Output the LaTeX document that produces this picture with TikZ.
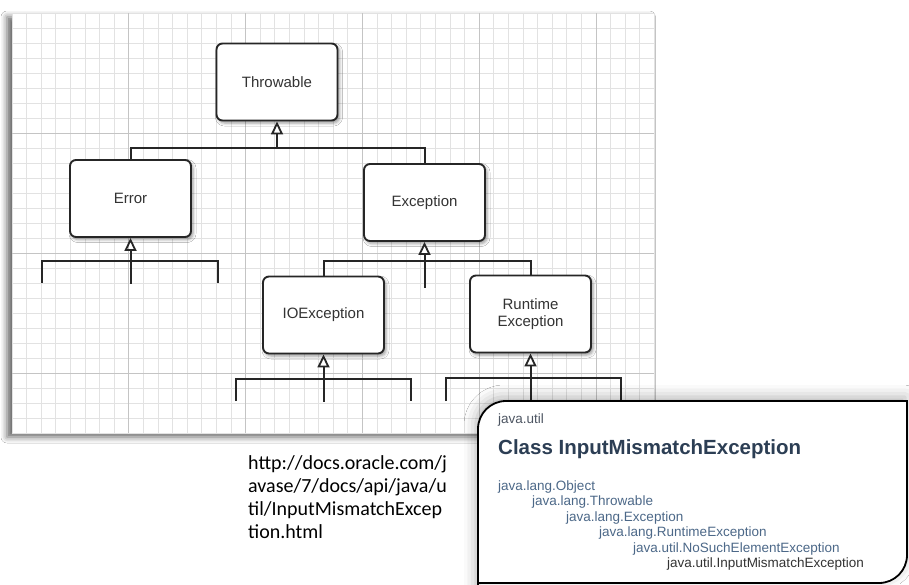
\documentclass[tikz,border=0pt]{standalone}
\usepackage{fontspec}
\setmainfont{Liberation Sans}
\newfontfamily\urlfont{Carlito}
\usetikzlibrary{arrows.meta}
\usetikzlibrary{calc}
\usetikzlibrary{shadows.blur}

\definecolor{gridminor}{RGB}{226,226,226}
\definecolor{gridmajor}{RGB}{196,196,196}
\definecolor{cardtitle}{RGB}{44,62,84}
\definecolor{cardpkg}{RGB}{77,85,98}
\definecolor{cardlink}{RGB}{76,104,136}

\begin{document}
\begin{tikzpicture}[x=1pt,y=-1pt,
  class/.style={draw=black!85,line width=1.9pt,fill=white,rounded corners=6pt,
    minimum width=121pt,minimum height=77pt,align=center,text=black!80,
    font=\fontsize{15}{17}\selectfont,
    blur shadow={shadow xshift=2pt,shadow yshift=-2.5pt,shadow blur radius=3pt}},
  link/.style={draw=black!85,line width=2pt},
  inherit/.style={link,-{Triangle[open,width=12pt,length=13pt,line width=1.8pt]}},
  tree/.style={anchor=base west,inner sep=0pt,text=cardlink,
    font=\fontsize{13.5}{15}\selectfont}]
  \useasboundingbox (0,0) rectangle (909,584);
  \fill[white] (0,0) rectangle (909,584);

  % grid panel
  \path[fill=white,draw=black!15,
    blur shadow={shadow xshift=-5pt,shadow yshift=-4pt,shadow blur radius=6pt,
      shadow opacity=60}]
    (12,13) rectangle (654.4,433);
  \foreach \i in {0,...,44}
    \draw[gridminor,line width=0.9pt] ({12+14.6*\i},13) -- ({12+14.6*\i},433);
  \foreach \j in {0,...,28}
    \draw[gridminor,line width=0.9pt] (12,{13+15*\j}) -- (654.4,{13+15*\j});
  \foreach \i in {1,...,5}
    \draw[gridmajor,line width=0.9pt] ({12+116.8*\i},13) -- ({12+116.8*\i},433);
  \foreach \j in {1,2,3}
    \draw[gridmajor,line width=0.9pt] (12,{13+120*\j}) -- (654.4,{13+120*\j});

  \node[class] (thr) at (277,82)      {Throwable};
  \node[class] (err) at (130.5,198.5) {Error};
  \node[class] (exc) at (424.5,202.5) {Exception};
  \node[class] (ioe) at (323.5,315)   {IOException};
  \node[class] (rte) at (530.5,314)   {Runtime\\Exception};

  % Throwable
  \coordinate (thrbar) at ($(thr.south)+(0,27)$);
  \draw[link] (err.north) |- (thrbar) -| (exc.north);
  \draw[inherit] (thrbar) -- (thr.south);

  % Error
  \coordinate (errbar)  at ($(err.south)+(0,23)$);
  \coordinate (errtail) at ($(err.south)+(0,46)$);
  \coordinate (errl) at (42,283);
  \coordinate (errr) at (218,283);
  \draw[link] (errl) |- (errbar) -| (errr);
  \draw[inherit] (errtail) -- (err.south);

  % Exception
  \coordinate (excbar)  at ($(exc.south)+(0,19)$);
  \coordinate (exctail) at ($(exc.south)+(0,46)$);
  \draw[link] (ioe.north) |- (excbar) -| (rte.north);
  \draw[inherit] (exctail) -- (exc.south);

  % IOException
  \coordinate (ioebar)  at ($(ioe.south)+(0,24.5)$);
  \coordinate (ioetail) at ($(ioe.south)+(0,47.5)$);
  \coordinate (ioel) at (236,401);
  \coordinate (ioer) at (411,401);
  \draw[link] (ioel) |- (ioebar) -| (ioer);
  \draw[inherit] (ioetail) -- (ioe.south);

  % RuntimeException
  \coordinate (rtebar)  at ($(rte.south)+(0,24.5)$);
  \coordinate (rtetail) at ($(rte.south)+(0,48.5)$);
  \coordinate (rtel) at (446,401);
  \coordinate (rter) at (621,401);
  \draw[link] (rtel) |- (rtebar) -| (rter);
  \draw[inherit] (rtetail) -- (rte.south);

  % javadoc card
  \draw[black,line width=1.8pt,fill=white,
    blur shadow={shadow xshift=-2pt,shadow yshift=4pt,shadow blur radius=12pt,
      shadow opacity=30}]
    (478,600) -- (478,429) .. controls (478,413.5) and (490.5,401) .. (506,401)
    -- (907,401) -- (907,555) .. controls (907,570.5) and (894.5,583) .. (879,583)
    -- (478,583) -- cycle;
  \node[anchor=base west,inner sep=0pt,text=cardpkg,
    font=\fontsize{13.5}{15}\selectfont] (pkg) at (498,423) {java.util};
  \node[anchor=base west,inner sep=0pt,text=cardtitle,
    font=\bfseries\fontsize{20.5}{23}\selectfont] (title) at (498,454)
    {Class InputMismatchException};
  \node[tree] (t0) at (498,490)   {java.lang.Object};
  \node[tree] (t1) at (532,505.5) {java.lang.Throwable};
  \node[tree] (t2) at (566,521)   {java.lang.Exception};
  \node[tree] (t3) at (599,536.5) {java.lang.RuntimeException};
  \node[tree] (t4) at (633,552)   {java.util.NoSuchElementException};
  \node[tree,text=black!80] (t5) at (667,567.5) {java.util.InputMismatchException};

  \node[anchor=north west,inner sep=0pt,align=left,
    font=\urlfont\fontsize{20}{23}\selectfont] (url) at (248,455)
    {http://docs.oracle.com/j\\avase/7/docs/api/java/u\\til/InputMismatchExcep\\tion.html};
\end{tikzpicture}
\end{document}
